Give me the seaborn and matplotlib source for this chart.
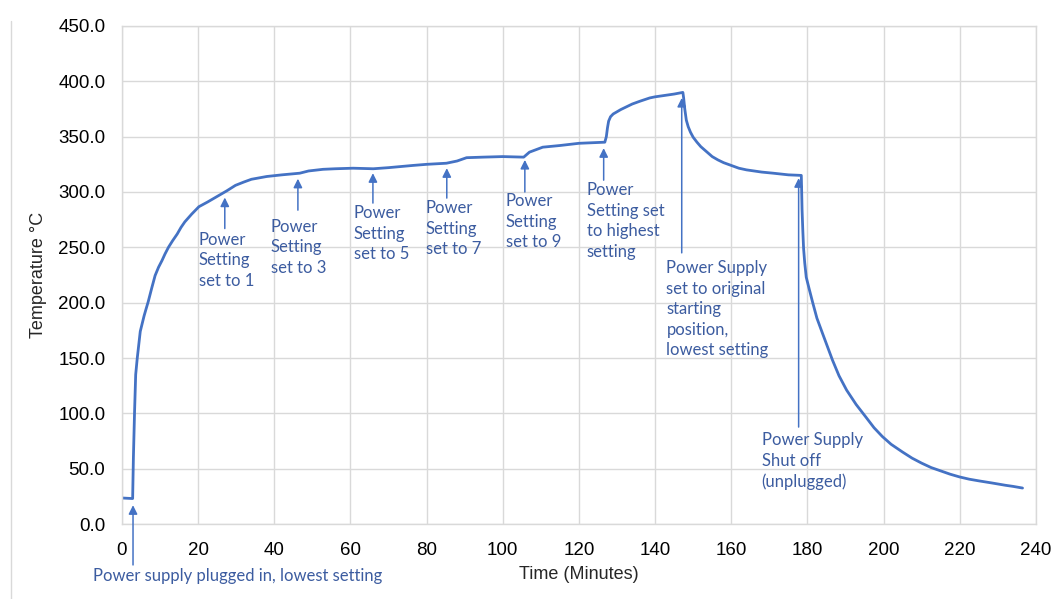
import matplotlib
matplotlib.use("Agg")
import matplotlib.pyplot as plt
from matplotlib.lines import Line2D
import seaborn as sns
import pandas as pd

# Temperature log
time_min = [0, 2.8, 3.0, 3.3, 3.6, 4.0, 4.8, 5.3, 5.8, 6.3, 6.9, 7.8, 8.7, 9.6,
            10.5, 11.3, 12.2, 13.3, 14.5, 15.5, 16.5, 18.3, 20.2, 22.5, 25.5,
            27.5, 29.8, 32, 34, 38, 42, 46.7, 49, 52.8, 56, 60.7, 66, 70, 76.4,
            80, 85.2, 88, 90.5, 94.8, 100, 105.5, 107, 110.5, 115, 120, 126.8,
            127.2, 127.5, 127.8, 128.3, 129, 130, 131, 132.5, 134, 136, 138.6,
            140, 142, 145, 147.3, 147.5, 147.8, 148.2, 148.7, 149.3, 150, 151,
            152, 153.5, 155, 156.5, 158, 160, 162, 164, 166, 168, 171, 175,
            178.4, 178.5, 178.6, 178.8, 179, 179.3, 179.7, 180.5, 181.4, 182.5,
            184, 185.3, 186.6, 188.3, 190.3, 192.8, 195.5, 197.5, 199.7, 202,
            205, 207.5, 210, 212.5, 215, 217.5, 220, 222.5, 225, 228.6, 232,
            234, 236.5]
temp_c = [23.5, 23.0, 60, 101, 135, 149.5, 174, 181, 188, 194, 201, 213, 224.5, 232,
          238, 244, 250, 256, 262, 268, 273, 280, 286.7, 291, 297,
          301, 306, 309, 311.5, 314, 315.5, 317, 319, 320.5, 321, 321.5, 321, 322, 324,
          325, 326, 328, 331, 331.5, 332, 331.5, 336, 340.5, 342, 344, 345,
          350, 358, 364, 368, 370.5, 372.5, 374.5, 377, 379.5, 382, 385,
          386, 387, 388.5, 390, 385, 375, 365, 359, 354, 349.5, 345,
          341, 336.5, 332, 329, 326.5, 324, 321.5, 320, 319, 318, 317, 315.5,
          315, 300, 284, 265, 249, 236, 223, 212, 200, 186,
          172, 160, 148, 134, 121, 108, 96, 87, 79, 72,
          65, 59.5, 55, 51, 48, 45, 42.5, 40.5, 39, 37, 35,
          34, 32.5]

x_ticks = list(range(0, 241, 20))
y_ticks = list(range(0, 451, 50))

# annotation texts
labels = [
    "Power supply plugged in, lowest setting",
    "Power\nSetting\nset to 1",
    "Power\nSetting\nset to 3",
    "Power\nSetting\nset to 5",
    "Power\nSetting\nset to 7",
    "Power\nSetting\nset to 9",
    "Power\nSetting set\nto highest\nsetting",
    "Power Supply\nset to original\nstarting\nposition,\nlowest setting",
    "Power Supply\nShut off\n(unplugged)",
]
# layout: (arrow x, arrow head y, arrow tail y, text x, text top y)
label_pos = [
    (2.9, 17, -37, -7.6, -40),
    (27, 295, 267, 20.2, 264),
    (46.2, 312, 283.6, 39.1, 276),
    (65.9, 317, 290, 60.9, 288),
    (85.3, 321.5, 294.5, 79.8, 292.7),
    (105.8, 329, 300, 100.8, 299),
    (126.5, 339.6, 310.7, 122, 309),
    (147, 385, 245, 143, 238.5),
    (177.7, 312.5, 87.6, 168, 83),
]

df = pd.DataFrame({"Time": time_min, "Temp": temp_c})

sns.set_style("whitegrid")
plt.rcParams["font.family"] = ["Liberation Sans", "DejaVu Sans"]

fig = plt.figure(figsize=(10.57, 5.99), dpi=100)
ax = fig.add_axes([0.1154, 0.1252, 0.8646, 0.8314])

line_color = "#4472C4"
text_color = "#3C5CA0"

sns.lineplot(data=df, x="Time", y="Temp", ax=ax, color=line_color, linewidth=2.0)

ax.set_xlim(0, 240)
ax.set_ylim(0, 450)
ax.set_xticks(x_ticks)
ax.set_yticks(y_ticks)
ax.set_yticklabels([f"{v:.1f}" for v in y_ticks])
ax.tick_params(axis="x", length=0, labelsize=13.5, colors="black", pad=13)
ax.tick_params(axis="y", length=0, labelsize=13.5, colors="black", pad=12)
ax.grid(True, color="#D9D9D9", linewidth=1)
for s in ax.spines.values():
    s.set_color("#D9D9D9")
    s.set_linewidth(1)

ax.set_xlabel("Time (Minutes)", fontsize=13, labelpad=5)
ax.set_ylabel("Temperature °C", fontsize=13, labelpad=8)

for lab, (ax_x, head, tail, tx, ty) in zip(labels, label_pos):
    ax.annotate("", xy=(ax_x, head), xytext=(ax_x, tail),
                arrowprops=dict(arrowstyle="-|>", color=line_color, lw=1.1,
                                mutation_scale=13, shrinkA=0, shrinkB=0),
                annotation_clip=False)
    ax.text(tx, ty, lab, ha="left", va="top", fontsize=12, color=text_color,
            family=["Lato", "DejaVu Sans"], linespacing=1.35, clip_on=False)

# thin frame line at far left as in the source image
fig.add_artist(Line2D([0.0105, 0.0105], [0.0, 0.965], transform=fig.transFigure,
                      color="#D9D9D9", lw=1))

fig.savefig("out.png", dpi=100)
